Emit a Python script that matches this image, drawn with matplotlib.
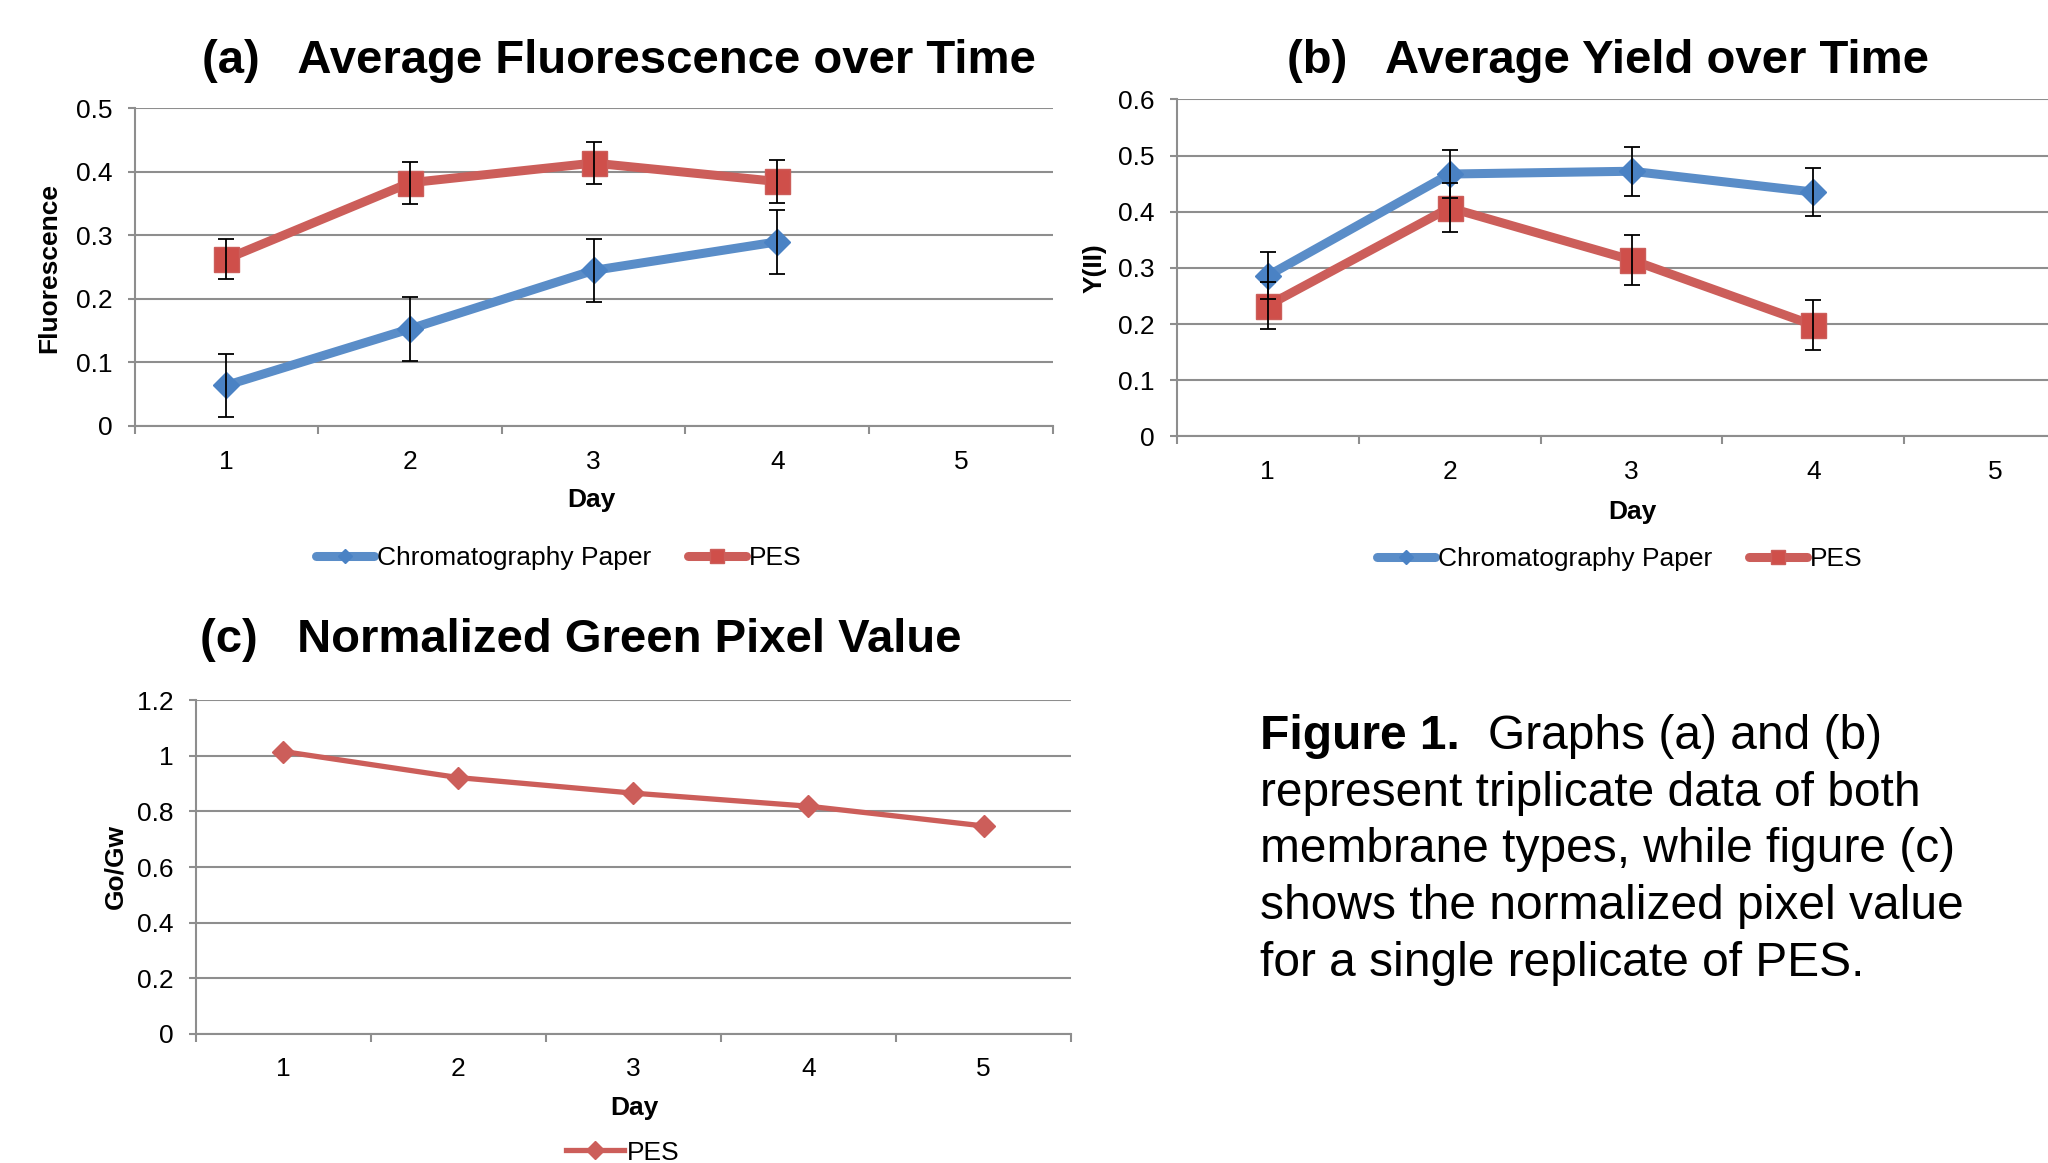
import numpy as np
import matplotlib
matplotlib.use('Agg')
import matplotlib.pyplot as plt
from matplotlib.ticker import FixedLocator, NullFormatter, FixedFormatter

plt.rcParams['font.family'] = ['Liberation Sans', 'DejaVu Sans']

# ---------------- data ----------------
day_positions = [1, 2, 3, 4, 5]
day_labels = ['1', '2', '3', '4', '5']

fluor_days = [1, 2, 3, 4]
fluor_chrom = [0.064, 0.153, 0.245, 0.290]
fluor_chrom_err = [0.050, 0.050, 0.050, 0.050]
fluor_pes = [0.263, 0.383, 0.414, 0.385]
fluor_pes_err = [0.031, 0.033, 0.033, 0.034]

yield_days = [1, 2, 3, 4]
yield_chrom = [0.286, 0.467, 0.472, 0.435]
yield_chrom_err = [0.042, 0.042, 0.044, 0.043]
yield_pes = [0.233, 0.407, 0.314, 0.198]
yield_pes_err = [0.042, 0.044, 0.045, 0.045]

green_days = [1, 2, 3, 4, 5]
green_pes = [1.016, 0.922, 0.866, 0.819, 0.748]

series_names = ['Chromatography Paper', 'PES']

title_a = '(a)   Average Fluorescence over Time'
title_b = '(b)   Average Yield over Time'
title_c = '(c)   Normalized Green Pixel Value'
caption_bold = 'Figure 1.'
caption_lines = ['Graphs (a) and (b)',
                 'represent triplicate data of both',
                 'membrane types, while figure (c)',
                 'shows the normalized pixel value',
                 'for a single replicate of PES.']

# ---------------- style ----------------
BLUE_LINE = '#5A8DC8'
BLUE_MK = '#4A82C4'
RED_LINE = '#CC5E5A'
RED_MK = '#CF4F4A'
GRID = '#8E8E8E'

W, H = 1568.0, 890.0   # reference layout units


def fx(x):
    return x / W


def fy(y):
    return 1 - y / H


fig = plt.figure(figsize=(20.48, 11.63), dpi=100)
fig.patch.set_facecolor('white')


def style_axes(ax, ymax, ystep):
    ax.set_xlim(0.5, 5.5)
    ax.set_ylim(0, ymax)
    yt = np.round(np.arange(0, ymax + 1e-9, ystep), 2)
    ax.yaxis.set_major_locator(FixedLocator(yt))
    ax.yaxis.set_major_formatter(FixedFormatter(['%g' % v for v in yt]))
    ax.grid(axis='y', color=GRID, lw=1.5)
    ax.set_axisbelow(True)
    for s in ['top', 'right']:
        ax.spines[s].set_visible(False)
    for s in ['left', 'bottom']:
        ax.spines[s].set_color(GRID)
        ax.spines[s].set_linewidth(1.5)
    ax.xaxis.set_major_locator(FixedLocator(np.arange(0.5, 5.6, 1.0)))
    ax.xaxis.set_major_formatter(NullFormatter())
    ax.xaxis.set_minor_locator(FixedLocator(day_positions))
    ax.xaxis.set_minor_formatter(FixedFormatter(day_labels))
    ax.tick_params(axis='x', which='major', length=6, width=1.5, color=GRID, direction='out')
    ax.tick_params(axis='x', which='minor', length=0, pad=17, labelsize=19)
    ax.tick_params(axis='y', which='major', length=5, width=1.5, color=GRID, pad=11, labelsize=19)


def two_series(ax, days, chrom, chrom_err, pes, pes_err):
    ax.plot(days, chrom, color=BLUE_LINE, lw=6.5, marker='D', ms=13,
            mfc=BLUE_MK, mec=BLUE_MK, zorder=3, solid_capstyle='round', label=series_names[0])
    ax.plot(days, pes, color=RED_LINE, lw=6.5, marker='s', ms=18,
            mfc=RED_MK, mec=RED_LINE, zorder=3, solid_capstyle='round', label=series_names[1])
    ax.errorbar(days, chrom, yerr=chrom_err, fmt='none', ecolor='black',
                elinewidth=1.3, capsize=6, capthick=1.3, zorder=4)
    ax.errorbar(days, pes, yerr=pes_err, fmt='none', ecolor='black',
                elinewidth=1.3, capsize=6, capthick=1.3, zorder=4)


# ---------------- panel (a) ----------------
ax_a = fig.add_axes([fx(103), fy(326), fx(806) - fx(103), fy(83) - fy(326)])
style_axes(ax_a, 0.5, 0.1)
two_series(ax_a, fluor_days, fluor_chrom, fluor_chrom_err, fluor_pes, fluor_pes_err)
fig.text(fx(474), fy(56), title_a, fontsize=34, fontweight='bold', ha='center', va='baseline')
fig.text(fx(38), fy(205), 'Fluorescence', fontsize=19, fontweight='bold', rotation=90,
         ha='center', va='center')
fig.text(fx(453), fy(383), 'Day', fontsize=19, fontweight='bold', ha='center', va='center')
fig.legend(handles=ax_a.get_lines()[:2], loc='center', bbox_to_anchor=(fx(428), fy(427)),
           ncol=2, frameon=False, fontsize=19, handlelength=2.2, handletextpad=0.1,
           columnspacing=1.4, markerscale=0.55)

# ---------------- panel (b) ----------------
cat_w_b = (1528 - 971) / 4.0
left_b = 901
right_b = left_b + 5 * cat_w_b
ax_b = fig.add_axes([fx(left_b), fy(334), fx(right_b) - fx(left_b), fy(76) - fy(334)])
style_axes(ax_b, 0.6, 0.1)
two_series(ax_b, yield_days, yield_chrom, yield_chrom_err, yield_pes, yield_pes_err)
fig.text(fx(1231), fy(56), title_b, fontsize=34, fontweight='bold', ha='center', va='baseline')
fig.text(fx(838), fy(205), 'Y(II)', fontsize=19, fontweight='bold', rotation=90,
         ha='center', va='center')
fig.text(fx(1250), fy(392), 'Day', fontsize=19, fontweight='bold', ha='center', va='center')
fig.legend(handles=ax_b.get_lines()[:2], loc='center', bbox_to_anchor=(fx(1240), fy(428)),
           ncol=2, frameon=False, fontsize=19, handlelength=2.2, handletextpad=0.1,
           columnspacing=1.4, markerscale=0.55)

# ---------------- panel (c) ----------------
ax_c = fig.add_axes([fx(150), fy(791), fx(820) - fx(150), fy(536) - fy(791)])
style_axes(ax_c, 1.2, 0.2)
ax_c.plot(green_days, green_pes, color=RED_LINE, lw=3.8, marker='D', ms=11,
          mfc=RED_LINE, mec=RED_LINE, zorder=3, label=series_names[1])
fig.text(fx(445), fy(499), title_c, fontsize=34, fontweight='bold', ha='center', va='baseline')
fig.text(fx(88), fy(663), 'Go/Gw', fontsize=19, fontweight='bold', rotation=90,
         ha='center', va='center')
fig.text(fx(486), fy(848), 'Day', fontsize=19, fontweight='bold', ha='center', va='center')
fig.legend(handles=ax_c.get_lines()[:1], loc='center', bbox_to_anchor=(fx(477), fy(882)),
           ncol=1, frameon=False, fontsize=19, handlelength=2.2, handletextpad=0.1,
           markerscale=0.8)

# ---------------- caption ----------------
cap_x = fx(965)
base0 = 573.0
step = 43.5
fig.text(cap_x, fy(base0), caption_bold, fontsize=34.5, fontweight='bold', ha='left', va='baseline')
fig.text(fx(1139), fy(base0), caption_lines[0], fontsize=34.5, ha='left', va='baseline')
for i, line in enumerate(caption_lines[1:], start=1):
    fig.text(cap_x, fy(base0 + step * i), line, fontsize=34.5, ha='left', va='baseline')

fig.savefig('out.png', dpi=100, facecolor='white')
